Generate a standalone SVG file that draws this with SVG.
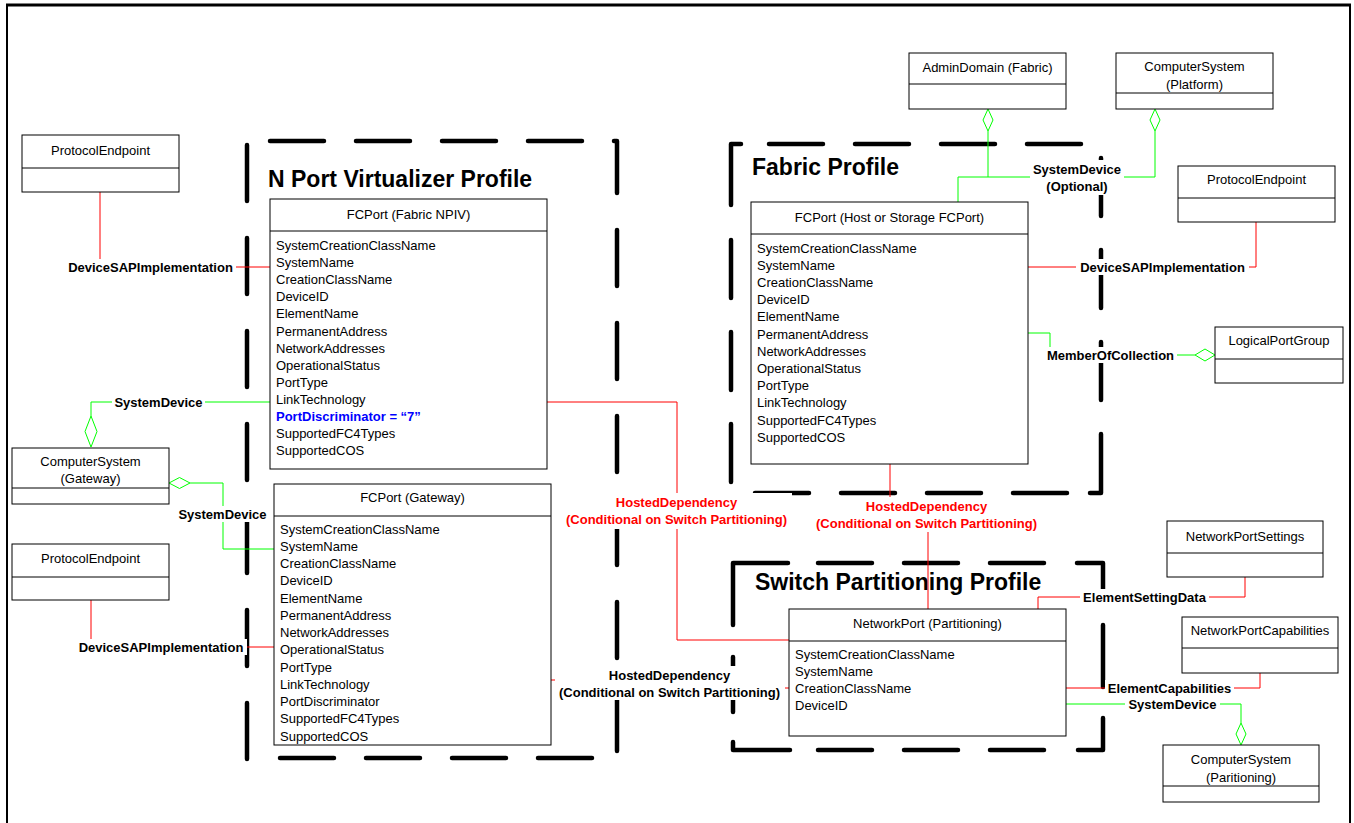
<svg xmlns="http://www.w3.org/2000/svg" width="1354" height="823" viewBox="0 0 1354 823">
<style>
.box{fill:#fff;stroke:#000;stroke-width:1}
.dv{stroke:#000;stroke-width:1}
.t{font-family:"Liberation Sans",Arial,sans-serif;font-size:13px;fill:#000}
.c{text-anchor:middle}
.b{font-weight:bold}
.rt{fill:#f00}
.blue{fill:#0000ff;font-weight:bold}
.title{font-family:"Liberation Sans",Arial,sans-serif;font-size:23px;font-weight:bold;fill:#000}
.fr{fill:none;stroke:#000;stroke-width:4.5;stroke-linecap:round;stroke-linejoin:round}
.h{stroke-dasharray:54 32}
.v{stroke-dasharray:56 37}
.red{fill:none;stroke:#ff0000;stroke-width:1}
.grn{fill:none;stroke:#00ff00;stroke-width:1}
.dia{fill:#fff;stroke:#00ff00;stroke-width:1}
.bg{fill:#fff}
</style>
<rect x="0" y="0" width="1354" height="823" fill="#fff"/>
<g id="outer-frame">
<line x1="6" y1="5" x2="1351" y2="5" stroke="#000" stroke-width="3"/>
<line x1="7" y1="5" x2="7" y2="823" stroke="#000" stroke-width="2"/>
<line x1="1350" y1="5" x2="1350" y2="823" stroke="#000" stroke-width="2"/>
</g>
<g id="profile-frames">
<g id="frame-npv">
<path class="fr h" d="M270,141 H585"/>
<path class="fr" d="M614,141 H617 V193"/>
<path class="fr v" d="M617,230 V752"/>
<path class="fr h" d="M280,758 H600"/>
<path class="fr v" d="M247,145 V760"/>
<text class="title" x="268" y="187">N Port Virtualizer Profile</text>
</g>
<g id="frame-fabric">
<path class="fr" d="M741,144 H731 V205"/>
<path class="fr h" d="M769,144 H1090"/>
<path class="fr" style="stroke-dasharray:58 34" d="M1101,158 V405"/>
<path class="fr" d="M1101,434 V493 H1090"/>
<path class="fr h" d="M755,493 H1070"/>
<path class="fr" style="stroke-dasharray:58 34" d="M731,240 V485"/>
<text class="title" x="752" y="175">Fabric Profile</text>
</g>
<g id="frame-sp">
<path class="fr" d="M733,625 V563 H788"/>
<path class="fr h" d="M818,563 H1050"/>
<path class="fr" d="M1077,563 H1103 V590"/>
<path class="fr" d="M1103,625 V687"/>
<path class="fr" d="M1103,718 V750 H1078"/>
<path class="fr h" d="M818,750 H1050"/>
<path class="fr" d="M733,657 V712"/>
<path class="fr" d="M790,750 H733 V742"/>
<text class="title" x="755" y="590">Switch Partitioning Profile</text>
</g>
</g>
<g id="connectors">
<path class="red" d="M100,192 V267 H270"/>
<path class="grn" d="M270,402 H91 V416"/>
<path class="dia" d="M91,416 L97,431.5 L91,447 L85,431.5 Z"/>
<path class="grn" d="M190,483 H223 V549 H274"/>
<path class="dia" d="M169,483 L179.5,477.5 L190,483 L179.5,488.5 Z"/>
<path class="red" d="M91,600 V647 H274"/>
<path class="red" d="M547,402 H677 V640 H789"/>
<path class="red" d="M551,680 H669 V688 H789"/>
<path class="red" d="M890,464 V515 H928 V609"/>
<path class="grn" d="M958,202 V177 H1155 V131"/>
<path class="grn" d="M988,177 V131"/>
<path class="dia" d="M988,109 L993,120 L988,131 L983,120 Z"/>
<path class="dia" d="M1155,109 L1160,120 L1155,131 L1150,120 Z"/>
<path class="red" d="M1028,267 H1256 V222"/>
<path class="grn" d="M1028,333 H1050 V355 H1195"/>
<path class="dia" d="M1215,355 L1205,349 L1195,355 L1205,361 Z"/>
<path class="red" d="M1038,609 V597 H1245 V577"/>
<path class="red" d="M1066,688 H1260 V673"/>
<path class="grn" d="M1066,704 H1241 V723"/>
<path class="dia" d="M1241,745 L1246,734 L1241,723 L1236,734 Z"/>
</g>
<g id="n-pe-left-top">
<rect class="box" x="22" y="135" width="157" height="57"/>
<line class="dv" x1="22" y1="168" x2="179" y2="168"/>
<text class="t c" x="100.5" y="155">ProtocolEndpoint</text>
</g>
<g id="n-fcport-npiv">
<rect class="box" x="270" y="199" width="277" height="270"/>
<line class="dv" x1="270" y1="231" x2="547" y2="231"/>
<text class="t c" x="408.5" y="219">FCPort (Fabric NPIV)</text>
<text class="t" x="276" y="250">SystemCreationClassName</text>
<text class="t" x="276" y="267.1">SystemName</text>
<text class="t" x="276" y="284.2">CreationClassName</text>
<text class="t" x="276" y="301.3">DeviceID</text>
<text class="t" x="276" y="318.4">ElementName</text>
<text class="t" x="276" y="335.5">PermanentAddress</text>
<text class="t" x="276" y="352.6">NetworkAddresses</text>
<text class="t" x="276" y="369.7">OperationalStatus</text>
<text class="t" x="276" y="386.8">PortType</text>
<text class="t" x="276" y="403.9">LinkTechnology</text>
<text class="t blue" x="276" y="421">PortDiscriminator = “7”</text>
<text class="t" x="276" y="438.1">SupportedFC4Types</text>
<text class="t" x="276" y="455.2">SupportedCOS</text>
</g>
<g id="n-cs-gateway">
<rect class="box" x="12" y="448" width="157" height="56"/>
<line class="dv" x1="12" y1="488" x2="169" y2="488"/>
<text class="t c" x="90.5" y="465.5">ComputerSystem</text>
<text class="t c" x="90.5" y="483">(Gateway)</text>
</g>
<g id="n-pe-left-bottom">
<rect class="box" x="12" y="544" width="157" height="56"/>
<line class="dv" x1="12" y1="577" x2="169" y2="577"/>
<text class="t c" x="90.5" y="562.5">ProtocolEndpoint</text>
</g>
<g id="n-fcport-gateway">
<rect class="box" x="274" y="484" width="277" height="261"/>
<line class="dv" x1="274" y1="516" x2="551" y2="516"/>
<text class="t c" x="412.5" y="501.5">FCPort (Gateway)</text>
<text class="t" x="280" y="533.5">SystemCreationClassName</text>
<text class="t" x="280" y="550.75">SystemName</text>
<text class="t" x="280" y="568">CreationClassName</text>
<text class="t" x="280" y="585.25">DeviceID</text>
<text class="t" x="280" y="602.5">ElementName</text>
<text class="t" x="280" y="619.75">PermanentAddress</text>
<text class="t" x="280" y="637">NetworkAddresses</text>
<text class="t" x="280" y="654.25">OperationalStatus</text>
<text class="t" x="280" y="671.5">PortType</text>
<text class="t" x="280" y="688.75">LinkTechnology</text>
<text class="t" x="280" y="706">PortDiscriminator</text>
<text class="t" x="280" y="723.25">SupportedFC4Types</text>
<text class="t" x="280" y="740.5">SupportedCOS</text>
</g>
<g id="n-fcport-host">
<rect class="box" x="751" y="202" width="277" height="262"/>
<line class="dv" x1="751" y1="234" x2="1028" y2="234"/>
<text class="t c" x="889.5" y="221.5">FCPort (Host or Storage FCPort)</text>
<text class="t" x="757" y="252.5">SystemCreationClassName</text>
<text class="t" x="757" y="269.7">SystemName</text>
<text class="t" x="757" y="286.9">CreationClassName</text>
<text class="t" x="757" y="304.1">DeviceID</text>
<text class="t" x="757" y="321.3">ElementName</text>
<text class="t" x="757" y="338.5">PermanentAddress</text>
<text class="t" x="757" y="355.7">NetworkAddresses</text>
<text class="t" x="757" y="372.9">OperationalStatus</text>
<text class="t" x="757" y="390.1">PortType</text>
<text class="t" x="757" y="407.3">LinkTechnology</text>
<text class="t" x="757" y="424.5">SupportedFC4Types</text>
<text class="t" x="757" y="441.7">SupportedCOS</text>
</g>
<g id="n-admindomain">
<rect class="box" x="909" y="53" width="157" height="56"/>
<line class="dv" x1="909" y1="84" x2="1066" y2="84"/>
<text class="t c" x="987.5" y="71.5">AdminDomain (Fabric)</text>
</g>
<g id="n-cs-platform">
<rect class="box" x="1116" y="53" width="157" height="56"/>
<line class="dv" x1="1116" y1="93" x2="1273" y2="93"/>
<text class="t c" x="1194.5" y="70.5">ComputerSystem</text>
<text class="t c" x="1194.5" y="89">(Platform)</text>
</g>
<g id="n-pe-right">
<rect class="box" x="1178" y="166" width="157" height="56"/>
<line class="dv" x1="1178" y1="198" x2="1335" y2="198"/>
<text class="t c" x="1256.5" y="183.5">ProtocolEndpoint</text>
</g>
<g id="n-logicalportgroup">
<rect class="box" x="1215" y="327" width="128" height="56"/>
<line class="dv" x1="1215" y1="359" x2="1343" y2="359"/>
<text class="t c" x="1279" y="344.5">LogicalPortGroup</text>
</g>
<g id="n-networkport">
<rect class="box" x="789" y="609" width="277" height="127"/>
<line class="dv" x1="789" y1="641" x2="1066" y2="641"/>
<text class="t c" x="927.5" y="627.5">NetworkPort (Partitioning)</text>
<text class="t" x="795" y="658.5">SystemCreationClassName</text>
<text class="t" x="795" y="675.5">SystemName</text>
<text class="t" x="795" y="692.5">CreationClassName</text>
<text class="t" x="795" y="709.5">DeviceID</text>
</g>
<g id="n-networkportsettings">
<rect class="box" x="1167" y="521" width="156" height="56"/>
<line class="dv" x1="1167" y1="553" x2="1323" y2="553"/>
<text class="t c" x="1245" y="540.5">NetworkPortSettings</text>
</g>
<g id="n-networkportcapabilities">
<rect class="box" x="1182" y="617" width="156" height="56"/>
<line class="dv" x1="1182" y1="648" x2="1338" y2="648"/>
<text class="t c" x="1260" y="635">NetworkPortCapabilities</text>
</g>
<g id="n-cs-partitioning">
<rect class="box" x="1163" y="745" width="156" height="57"/>
<line class="dv" x1="1163" y1="786" x2="1319" y2="786"/>
<text class="t c" x="1241" y="763.5">ComputerSystem</text>
<text class="t c" x="1241" y="781.5">(Paritioning)</text>
</g>
<g id="connector-labels">
<rect class="bg" x="65" y="259" width="171" height="16"/>
<text class="t c b" x="150.5" y="271.5">DeviceSAPImplementation</text>
<rect class="bg" x="112" y="394" width="93" height="16"/>
<text class="t c b" x="158.5" y="406.5">SystemDevice</text>
<rect class="bg" x="176" y="506" width="93" height="16"/>
<text class="t c b" x="222.5" y="518.5">SystemDevice</text>
<rect class="bg" x="75" y="639" width="172" height="16"/>
<text class="t c b" x="161" y="651.5">DeviceSAPImplementation</text>
<rect class="bg" x="561" y="493" width="231" height="36"/>
<text class="t c b rt" x="676.5" y="506.5">HostedDependency</text>
<text class="t c b rt" x="676.5" y="523.5">(Conditional on Switch Partitioning)</text>
<rect class="bg" x="555" y="666" width="230" height="34"/>
<text class="t c b" x="669.5" y="679.5">HostedDependency</text>
<text class="t c b" x="669.5" y="696.5">(Conditional on Switch Partitioning)</text>
<rect class="bg" x="811" y="497" width="231" height="35"/>
<text class="t c b rt" x="926.5" y="510.5">HostedDependency</text>
<text class="t c b rt" x="926.5" y="528">(Conditional on Switch Partitioning)</text>
<rect class="bg" x="1030" y="160" width="94" height="35"/>
<text class="t c b" x="1077" y="173.5">SystemDevice</text>
<text class="t c b" x="1077" y="190.5">(Optional)</text>
<rect class="bg" x="1076" y="259" width="173" height="16"/>
<text class="t c b" x="1162.5" y="271.5">DeviceSAPImplementation</text>
<rect class="bg" x="1044" y="347" width="133" height="16"/>
<text class="t c b" x="1110.5" y="359.5">MemberOfCollection</text>
<rect class="bg" x="1080" y="589" width="129" height="16"/>
<text class="t c b" x="1144.5" y="601.5">ElementSettingData</text>
<rect class="bg" x="1105" y="680" width="129" height="16"/>
<text class="t c b" x="1169.5" y="692.5">ElementCapabilities</text>
<rect class="bg" x="1125" y="697" width="95" height="15"/>
<text class="t c b" x="1172.5" y="708.5">SystemDevice</text>
</g>
</svg>
